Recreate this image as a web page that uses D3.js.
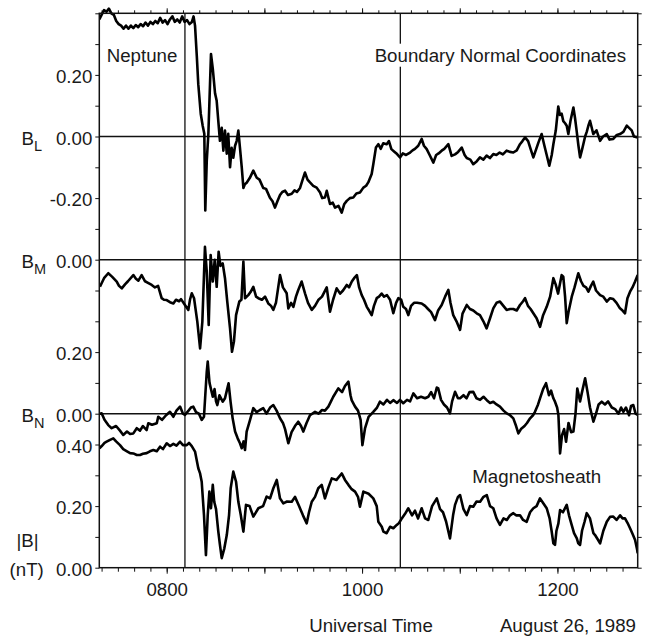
<!DOCTYPE html>
<html>
<head>
<meta charset="utf-8">
<script src="https://cdn.jsdelivr.net/npm/d3@7"></script>
<style>
  body { margin: 0; background: #fff; }
  text { font-family: "Liberation Sans", Arial, Helvetica, sans-serif; fill: #1a1a1a; }
</style>
</head>
<body>
<svg id="chart"></svg>
<script>
// time in minutes UT (Aug 26, 1989), field in nT
var bL = [[438.6,0.38],[440,0.395],[441.5,0.41],[443,0.405],[444.5,0.415],[446,0.4],[447.5,0.395],[449,0.375],[450.5,0.365],[452,0.36],[453.5,0.35],[455,0.36],[456.5,0.35],[458,0.36],[459.5,0.352],[461,0.362],[462.5,0.355],[464,0.365],[465.5,0.358],[467,0.37],[468.5,0.36],[470,0.372],[471.5,0.365],[473,0.375],[474.5,0.368],[476,0.385],[477.5,0.37],[479,0.378],[480.5,0.365],[482,0.38],[483.5,0.39],[485,0.372],[486.5,0.38],[488,0.37],[489.5,0.39],[491,0.372],[492.5,0.378],[494,0.365],[495.5,0.372],[496.5,0.39],[497.4,0.36],[498.5,0.26],[499.4,0.17],[500.9,0.074],[502.1,0.035],[503.1,0.009],[503.7,-0.24],[504.6,-0.08],[505.6,0.009],[506.6,0.17],[507.2,0.268],[508.3,0.22],[509.7,0.14],[510.7,0.116],[511.7,0.05],[512.7,-0.014],[513.8,0.028],[514.8,-0.046],[515.8,0.019],[516.9,-0.056],[517.8,0.009],[518.9,-0.1],[519.9,-0.037],[520.9,-0.069],[522,-0.03],[523,-0.014],[524,0.019],[525,-0.037],[526.1,-0.1],[527.1,-0.167],[528,-0.155],[529.1,-0.15],[531,-0.135],[533.2,-0.111],[535.3,-0.134],[537,-0.14],[539.3,-0.167],[541,-0.17],[543.4,-0.199],[545,-0.21],[546.5,-0.231],[548,-0.21],[549.6,-0.19],[551,-0.18],[552.7,-0.176],[554.5,-0.19],[556.8,-0.186],[558.5,-0.175],[560,-0.18],[561.9,-0.167],[563.5,-0.14],[564.9,-0.117],[566.5,-0.14],[568,-0.149],[570,-0.16],[572.1,-0.166],[574.2,-0.182],[575.5,-0.2],[577.2,-0.198],[578.3,-0.176],[580.3,-0.219],[582,-0.215],[583.4,-0.231],[585.5,-0.225],[587.5,-0.247],[589,-0.22],[590.6,-0.209],[592.5,-0.2],[594.6,-0.198],[596.5,-0.185],[598.7,-0.182],[600.8,-0.166],[602.5,-0.16],[603.8,-0.149],[605.9,-0.122],[606.9,-0.09],[608.5,-0.036],[610,-0.025],[611.5,-0.04],[613,-0.022],[615.1,-0.025],[616.5,-0.015],[618,-0.041],[620,-0.05],[621.5,-0.057],[623.3,-0.068],[625,-0.055],[627,-0.06],[629.5,-0.052],[631,-0.045],[632.5,-0.04],[634.5,-0.03],[636.6,-0.008],[638,-0.03],[639.7,-0.041],[641.5,-0.06],[643.8,-0.085],[645.5,-0.06],[647,-0.055],[648.9,-0.046],[650.5,-0.04],[653,-0.025],[655,-0.063],[657.1,-0.058],[659,-0.05],[661.2,-0.036],[663,-0.06],[664.3,-0.07],[666.5,-0.075],[668.3,-0.09],[670.5,-0.08],[672.4,-0.068],[674.5,-0.075],[676.5,-0.062],[678.5,-0.07],[680.6,-0.057],[682.5,-0.06],[684.5,-0.052],[686.5,-0.058],[688.8,-0.046],[690.8,-0.05],[692.9,-0.052],[695,-0.045],[697,-0.025],[698.5,-0.015],[700.1,-0.003],[702,-0.015],[703.5,-0.04],[705.2,-0.068],[707,-0.04],[708.3,-0.02],[710.3,0.008],[712,-0.03],[713.4,-0.06],[715,-0.095],[716.5,-0.06],[717.5,-0.025],[719,0.02],[720.5,0.097],[721.5,0.07],[722.6,0.074],[723.6,0.05],[724.7,0.043],[725.7,0.035],[726.7,0.008],[728,0.05],[729.8,0.094],[730.8,0.06],[731.8,0.018],[732.9,-0.03],[733.9,-0.068],[735,-0.045],[735.9,-0.025],[737,0],[738,0.015],[739,0.035],[740,0.051],[741,0.03],[742,0.008],[744,0.02],[746.2,-0.014],[748,0],[750.3,0.008],[752,-0.01],[754.3,-0.008],[756.5,0.005],[758.4,0.008],[760.5,0.015],[762.6,0.035],[764,0.028],[765.6,0.02],[767,0],[769.3,-0.003]];

var bM = [[439,-0.088],[441.5,-0.06],[444.1,-0.044],[446.4,-0.055],[449.3,-0.071],[450.7,-0.085],[452.4,-0.093],[454.4,-0.08],[456.2,-0.07],[459.5,-0.05],[461.1,-0.062],[462.6,-0.068],[464.6,-0.05],[466.7,-0.07],[468.5,-0.075],[470.8,-0.082],[472.8,-0.09],[474.7,-0.085],[476.9,-0.125],[478.3,-0.13],[480,-0.131],[482,-0.138],[484.1,-0.142],[485.7,-0.13],[487.6,-0.135],[488.8,-0.128],[491.2,-0.147],[493.3,-0.163],[494.3,-0.13],[495.4,-0.109],[496.8,-0.125],[498.8,-0.201],[500.5,-0.288],[501.9,-0.201],[502.7,-0.08],[503.5,0.042],[504.6,-0.039],[505.8,-0.212],[507,0.015],[508.3,-0.071],[509.5,0],[510.7,-0.088],[511.9,0.026],[513,-0.02],[514.4,-0.012],[515.8,-0.06],[517.2,-0.136],[518.9,-0.223],[520.1,-0.299],[521.3,-0.266],[522.6,-0.18],[524.6,-0.136],[525.9,-0.13],[527.1,-0.006],[528.1,-0.125],[530.1,-0.115],[531.5,-0.105],[533.2,-0.088],[534.9,-0.12],[536.3,-0.125],[538.5,-0.13],[540.4,-0.12],[542.4,-0.142],[544.1,-0.15],[545.5,-0.163],[547.1,-0.14],[549.6,-0.05],[551.4,-0.09],[553.7,-0.109],[554.7,-0.158],[556.4,-0.14],[557.8,-0.153],[559.4,-0.12],[560.7,-0.1],[562.9,-0.071],[565,-0.11],[566.8,-0.14],[569.1,-0.163],[571.1,-0.15],[573.1,-0.131],[575.4,-0.12],[578.3,-0.09],[580.3,-0.169],[582.2,-0.13],[584.4,-0.093],[586.5,-0.11],[588.3,-0.1],[590.6,-0.082],[592,-0.09],[593.7,-0.071],[595.1,-0.06],[596.8,-0.05],[598.2,-0.09],[599.8,-0.115],[601.2,-0.13],[602.9,-0.153],[604.3,-0.165],[605.9,-0.18],[607.3,-0.15],[609,-0.125],[610.4,-0.12],[612,-0.11],[613.5,-0.12],[615.3,-0.115],[617.2,-0.13],[619.2,-0.174],[620.9,-0.14],[622.3,-0.125],[624,-0.13],[625.3,-0.153],[627,-0.16],[628.4,-0.18],[630.1,-0.15],[631.9,-0.14],[633.8,-0.14],[636.6,-0.142],[638.7,-0.15],[640.5,-0.16],[642.4,-0.17],[644.8,-0.196],[646.7,-0.165],[648.9,-0.147],[651,-0.12],[653,-0.098],[654.3,-0.14],[656,-0.18],[658,-0.2],[660.2,-0.228],[661.7,-0.175],[664.3,-0.147],[666.3,-0.16],[668.3,-0.165],[670.4,-0.174],[672.4,-0.18],[674.5,-0.2],[676.5,-0.223],[678.6,-0.19],[680.6,-0.158],[682.6,-0.14],[684.7,-0.136],[686.8,-0.15],[688.8,-0.163],[690.9,-0.16],[692.9,-0.16],[695,-0.165],[697,-0.147],[698.9,-0.135],[700.1,-0.125],[701.9,-0.15],[703.5,-0.16],[705.2,-0.174],[707.2,-0.19],[709.3,-0.218],[711.2,-0.18],[713.4,-0.153],[715.5,-0.12],[717.5,-0.06],[718.9,-0.08],[720.4,-0.11],[722.6,-0.05],[723.6,-0.055],[724.7,-0.12],[725.7,-0.206],[726.8,-0.17],[728.8,-0.12],[730.5,-0.09],[732.8,-0.044],[734.5,-0.07],[736,-0.085],[737.6,-0.09],[739,-0.104],[740.6,-0.085],[742,-0.071],[743.7,-0.1],[746.2,-0.115],[748.2,-0.12],[750.3,-0.136],[752.3,-0.125],[754.3,-0.128],[756.3,-0.14],[758.4,-0.158],[760,-0.165],[761.5,-0.174],[763,-0.125],[764.6,-0.104],[766.1,-0.09],[767.7,-0.071],[769.3,-0.05]];

var bN = [[438.7,0],[440.1,0.001],[441.8,-0.02],[444.1,-0.037],[446.2,-0.047],[448.9,-0.04],[451.3,-0.055],[453.3,-0.069],[455.6,-0.058],[457.5,-0.066],[459.5,-0.064],[461.6,-0.047],[463.6,-0.055],[465.4,-0.04],[467.7,-0.053],[468.7,-0.031],[471,-0.036],[473.9,-0.031],[474.8,-0.01],[477.1,-0.02],[479.6,-0.005],[482,0.006],[484.1,-0.01],[486,0.01],[488.2,0.023],[490,0],[491.2,-0.004],[493.4,0.01],[494.9,0.02],[496.3,0.023],[498,0.005],[499.8,0],[501.5,-0.02],[502.9,-0.01],[503.7,0.06],[504.6,0.136],[505.2,0.169],[506.3,0.1],[508.3,0.055],[509.4,0.08],[510.3,0.04],[511.1,0.028],[512.4,0.06],[514.4,0.039],[515.8,0.05],[516.7,0.07],[518,0.099],[519.2,0.04],[520.5,-0.015],[522,-0.058],[523.6,-0.08],[525,-0.096],[526.1,-0.112],[527.2,-0.09],[528.1,-0.118],[529.1,-0.058],[531.2,-0.02],[533.2,0.018],[535.2,0.005],[537.3,0.012],[539.3,0.018],[541.3,0],[543.5,0.02],[545.5,0.028],[547.5,0.01],[549.6,-0.015],[551.4,-0.03],[552.7,-0.05],[554.7,-0.096],[556.7,-0.06],[558.8,-0.04],[560.8,-0.026],[562.5,-0.04],[563.9,-0.058],[565.9,-0.03],[568,-0.005],[571.1,0.006],[573.3,0],[575.4,0.012],[577.2,0.01],[579.3,0.023],[580.9,0.04],[582.3,0.055],[585.4,0.082],[587.7,0.07],[589.5,0.09],[591.6,0.104],[592.9,0.06],[593.6,0.044],[595.7,0.023],[597.5,0.01],[599.1,-0.02],[600.2,-0.102],[601.8,-0.048],[604,-0.01],[606.9,0.006],[609.2,0.02],[611,0.039],[613.1,0.03],[615.3,0.045],[617.2,0.035],[619.2,0.044],[621.5,0.035],[623.3,0.045],[625.3,0.034],[627.6,0.045],[629.5,0.04],[631.5,0.066],[633.8,0.05],[636.2,0.055],[638.7,0.05],[640.7,0.055],[642.4,0.07],[644.2,0.05],[645.9,0.085],[646.8,0.082],[648.5,0.045],[650.3,0.03],[652.2,0.02],[654,0.001],[655.3,0.04],[657.1,0.071],[658.9,0.05],[660.2,0.05],[662.3,0.06],[664.2,0.05],[666,0.07],[668.3,0.071],[670.3,0.05],[672.5,0.045],[674.6,0.055],[676.6,0.044],[678.6,0.035],[680.6,0.039],[682.6,0.03],[684.7,0.023],[686.9,0.01],[688.9,0.001],[690.9,-0.005],[692.9,-0.015],[694.6,-0.04],[696,-0.064],[697.6,-0.05],[699.8,-0.04],[701.3,-0.03],[703.2,-0.015],[705,-0.005],[706.2,0.006],[708.1,0.03],[709.3,0.05],[711.2,0.08],[713,0.099],[714.8,0.06],[716.1,0.075],[717.5,0.05],[718.5,0.039],[719.8,0.02],[720.6,-0.004],[721.6,-0.129],[722.8,-0.07],[724.1,-0.05],[725.3,-0.091],[726.8,-0.03],[728.4,-0.06],[729.8,-0.058],[731.1,0],[732.2,0.082],[733.9,0.04],[735.1,0.07],[737,0.115],[738.5,0.07],[740,0.02],[742.1,-0.026],[743.7,0],[745.3,0.03],[747.2,0.039],[749.2,0.03],[751.1,0.04],[753.4,0.02],[755.4,0.015],[757.5,0],[759.1,0.02],[760.5,0.006],[762.1,0.02],[764,-0.005],[765.2,0.025],[766.6,0.028],[768,0],[769.3,-0.004]];

var bMag = [[438.7,0.388],[440.1,0.395],[441.8,0.405],[443.1,0.409],[445.2,0.415],[447.2,0.42],[448.9,0.41],[451.3,0.398],[453.3,0.385],[455.6,0.378],[457.5,0.372],[459.5,0.371],[461.6,0.366],[463.6,0.366],[465.4,0.37],[467.7,0.372],[469.7,0.378],[471.8,0.382],[473.9,0.378],[475.9,0.393],[477.7,0.385],[480,0.404],[482,0.395],[484.1,0.402],[486,0.396],[488.2,0.409],[490,0.398],[492.3,0.398],[493.7,0.405],[495.4,0.395],[497.4,0.377],[499.4,0.323],[500.5,0.306],[501.5,0.279],[502.9,0.171],[504.1,0.041],[505.2,0.171],[506.2,0.247],[507.2,0.193],[508.3,0.269],[509.2,0.214],[510.3,0.19],[511.7,0.117],[512.7,0.074],[513.8,0.031],[515.4,0.063],[516.9,0.106],[518.3,0.171],[519.3,0.258],[520.9,0.312],[522.6,0.279],[524,0.214],[525.5,0.171],[527.1,0.117],[528.7,0.204],[530.9,0.2],[533.2,0.166],[536.3,0.193],[539.2,0.2],[541.4,0.231],[543.5,0.225],[545.5,0.258],[547.6,0.285],[549.6,0.225],[551.6,0.209],[553.9,0.215],[556.8,0.214],[558.8,0.23],[561.3,0.2],[563.7,0.17],[566,0.144],[567.4,0.18],[569.1,0.214],[571.1,0.23],[573.1,0.258],[575.2,0.269],[577.2,0.225],[579.3,0.26],[581.4,0.29],[584.3,0.285],[587.5,0.306],[589.5,0.285],[591.6,0.269],[593.6,0.255],[595.7,0.247],[597.5,0.23],[598.7,0.198],[600.8,0.247],[604,0.24],[606.9,0.225],[609,0.2],[610,0.149],[612.1,0.133],[613.1,0.117],[615.1,0.112],[617.2,0.133],[619.2,0.128],[621.3,0.139],[622.7,0.145],[624.4,0.16],[626.4,0.175],[628.4,0.193],[630.7,0.17],[632.5,0.185],[634.4,0.16],[636.6,0.193],[638.7,0.16],[640.7,0.155],[643,0.2],[645.9,0.225],[647.9,0.19],[649.7,0.18],[651.6,0.15],[654,0.095],[655.9,0.17],[657.1,0.204],[658.9,0.23],[660.2,0.236],[662.3,0.19],[664.3,0.171],[666.3,0.2],[668.3,0.198],[670.3,0.215],[672.5,0.214],[674.6,0.23],[676.6,0.236],[678.6,0.2],[680.6,0.193],[682.6,0.16],[684.7,0.139],[686.9,0.16],[688.9,0.155],[690.9,0.17],[692.9,0.177],[694.6,0.17],[697,0.17],[698.9,0.155],[701.1,0.149],[703.2,0.18],[705.2,0.193],[707.2,0.2],[709.3,0.225],[711.2,0.21],[713.4,0.193],[715.2,0.16],[716.4,0.12],[717.5,0.079],[718.5,0.074],[719.4,0.12],[720.6,0.144],[721.6,0.187],[723.4,0.18],[725.7,0.204],[727.1,0.17],[728.7,0.14],[730.2,0.112],[731.9,0.095],[732.8,0.079],[733.9,0.074],[735.1,0.12],[736.7,0.15],[738,0.177],[740,0.16],[742.1,0.112],[743.1,0.106],[745,0.09],[746.2,0.079],[748.2,0.12],[750.3,0.149],[752.3,0.165],[754.3,0.166],[756.3,0.155],[758.5,0.17],[760,0.16],[761.5,0.16],[763.1,0.145],[764.6,0.128],[766.1,0.11],[767.7,0.09],[768.9,0.06],[769.3,0.047]];

// vertical offsets of each trace on the shared axis
var offsets = [1.4, 1.0, 0.5, 0];
var series = [bL, bM, bN, bMag];

var leftTickPos = [1.6, 1.4, 1.2, 1.0, 0.7, 0.5, 0.4, 0.2, 0];
var leftTickText = ["0.20", "0.00", "-0.20", "0.00", "0.20", "0.00", "0.40", "0.20", "0.00"];

var xLabelTimes = [480, 600, 720];
var xLabels = ["0800", "1000", "1200"];
var boundaries = [491.2, 623.5];

var w = 651;
var h = 639;
var margin = {top: 13.3, bottom: 71.3, left: 99.3, right: 13.3};

var svg = d3.select("#chart")
  .attr("width", w)
  .attr("height", h);

var xScale = d3.scaleLinear()
  .domain([438.6, 769.3])
  .range([margin.left, w - margin.right]);

var yScale = d3.scaleLinear()
  .domain([0, 1.8])
  .range([h - margin.bottom, margin.top]);

var x0 = margin.left, x1 = w - margin.right;
var y0 = margin.top, y1 = h - margin.bottom;

svg.append("defs").append("clipPath")
  .attr("id", "clip")
  .append("rect")
  .attr("x", x0).attr("y", 0)
  .attr("width", x1 - x0).attr("height", h);

var minorTicks = d3.range(440, 770, 10);
var hourTicks = [480, 540, 600, 660, 720];
var tickStep = d3.range(0, 19).map(function(i){ return i / 10; });

function styleAxis(g){
  g.select(".domain").remove();
  g.selectAll(".tick line").attr("stroke", "#111").attr("stroke-width", 1);
  g.selectAll("text").attr("font-size", "18.7px").attr("fill", "#1a1a1a");
}

// left axis
svg.append("g")
  .attr("transform", "translate(" + x0 + ",0)")
  .call(d3.axisLeft(yScale).tickValues(tickStep).tickSize(4).tickPadding(3)
    .tickFormat(function(d){
      var i = leftTickPos.findIndex(function(p){ return Math.abs(p - d) < 1e-6; });
      return i < 0 ? "" : leftTickText[i];
    }))
  .call(styleAxis)
  .selectAll("text").attr("dy", "0.42em");

// right axis
svg.append("g")
  .attr("transform", "translate(" + x1 + ",0)")
  .call(d3.axisRight(yScale).tickValues(tickStep).tickSize(4).tickFormat(""))
  .call(styleAxis);

// top axis
svg.append("g")
  .attr("transform", "translate(0," + y0 + ")")
  .call(d3.axisTop(xScale).tickValues(minorTicks).tickSize(3).tickFormat(""))
  .call(styleAxis);
svg.append("g")
  .attr("transform", "translate(0," + y0 + ")")
  .call(d3.axisTop(xScale).tickValues(hourTicks).tickSize(5).tickFormat(""))
  .call(styleAxis);

// bottom axis
svg.append("g")
  .attr("transform", "translate(0," + y1 + ")")
  .call(d3.axisBottom(xScale).tickValues(minorTicks).tickSize(4).tickFormat(""))
  .call(styleAxis);
svg.append("g")
  .attr("transform", "translate(0," + y1 + ")")
  .call(d3.axisBottom(xScale).tickValues(hourTicks).tickSize(6).tickPadding(9.5)
    .tickFormat(function(d){
      var i = xLabelTimes.indexOf(d);
      return i < 0 ? "" : xLabels[i];
    }))
  .call(styleAxis);

// zero lines
svg.selectAll(".zero")
  .data(offsets.slice(0, 3))
  .enter().append("line")
  .attr("class", "zero")
  .attr("x1", x0).attr("x2", x1)
  .attr("y1", function(d){ return yScale(d); })
  .attr("y2", function(d){ return yScale(d); })
  .attr("stroke", "#111")
  .attr("stroke-width", 1.5);

// boundary crossings
svg.selectAll(".boundary")
  .data(boundaries)
  .enter().append("line")
  .attr("class", "boundary")
  .attr("x1", function(d){ return xScale(d); })
  .attr("x2", function(d){ return xScale(d); })
  .attr("y1", y0).attr("y2", y1)
  .attr("stroke", "#111")
  .attr("stroke-width", 1.3);

// traces
var line = d3.line()
  .x(function(d){ return xScale(d[0]); });

svg.append("g")
  .attr("clip-path", "url(#clip)")
  .selectAll("path")
  .data(series)
  .enter().append("path")
  .attr("fill", "none")
  .attr("stroke", "#000")
  .attr("stroke-width", 2.6)
  .attr("stroke-linejoin", "round")
  .attr("d", function(d, i){
    return line.y(function(p){ return yScale(p[1] + offsets[i]); })(d);
  });

// frame
svg.append("rect")
  .attr("x", x0).attr("y", y0)
  .attr("width", x1 - x0).attr("height", y1 - y0)
  .attr("fill", "none")
  .attr("stroke", "#111")
  .attr("stroke-width", 1.5);

// annotations
var fs = "18.7px";
svg.append("text").attr("x", 106.7).attr("y", 61.7).attr("font-size", fs).text("Neptune");

var bnc = svg.append("text").attr("x", 626).attr("y", 61.7)
  .attr("text-anchor", "end").attr("font-size", fs)
  .text("Boundary Normal Coordinates");
var bb = bnc.node().getBBox();
svg.insert("rect", function(){ return bnc.node(); })
  .attr("x", bb.x - 3).attr("y", bb.y - 1)
  .attr("width", bb.width + 6).attr("height", bb.height + 2)
  .attr("fill", "#fff");

svg.append("text").attr("x", 472.3).attr("y", 482.5).attr("font-size", fs).text("Magnetosheath");

var compLabels = [["L", 1.4], ["M", 1.0], ["N", 0.5]];
compLabels.forEach(function(c){
  var t = svg.append("text")
    .attr("x", 21.5)
    .attr("y", yScale(c[1]) + 8)
    .attr("font-size", fs)
    .text("B");
  t.append("tspan").attr("font-size", "14.5px").attr("dy", 6).text(c[0]);
});

svg.append("text").attr("x", 27.5).attr("y", y1 - 21).attr("text-anchor", "middle")
  .attr("font-size", fs).text("|B|");
svg.append("text").attr("x", 26.7).attr("y", y1 + 8.5).attr("text-anchor", "middle")
  .attr("font-size", fs).text("(nT)");

svg.append("text").attr("x", 371).attr("y", 631.5).attr("text-anchor", "middle")
  .attr("font-size", fs).text("Universal Time");
svg.append("text").attr("x", 636).attr("y", 631.5).attr("text-anchor", "end")
  .attr("font-size", fs).text("August 26, 1989");
</script>
</body>
</html>
